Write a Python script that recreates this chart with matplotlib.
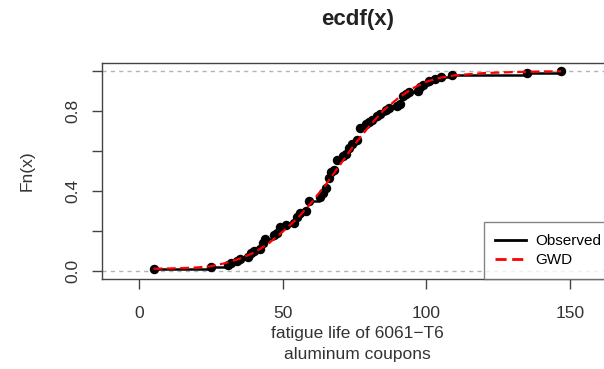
import numpy as np
import matplotlib.pyplot as plt
from matplotlib.lines import Line2D

plt.rcParams['font.family'] = ['Liberation Sans', 'DejaVu Sans']

# fatigue life (shifted), one value per coupon
fatigue = [5, 25, 31, 32, 34, 35, 38, 39, 39, 40, 42, 43, 43, 43, 44, 44,
           47, 47, 48, 49, 49, 49, 51, 54, 55, 55, 55, 56, 56, 58, 59, 59,
           59, 59, 59, 63, 63, 64, 64, 65, 65, 65, 66, 66, 66, 66, 66, 67,
           67, 67, 68, 69, 69, 69, 69, 69, 71, 71, 72, 73, 73, 73, 74, 74,
           76, 76, 77, 77, 77, 77, 77, 77, 79, 79, 80, 81, 83, 83, 84, 86,
           86, 87, 90, 91, 92, 92, 92, 92, 93, 94, 97, 98, 98, 99, 101, 101,
           103, 105, 109, 135, 147]

# fitted GWD cdf
gwd_x = [5, 10, 15, 20, 25, 30, 35, 40, 45, 50, 55, 60, 65, 70, 75, 80,
         85, 90, 95, 100, 105, 110, 120, 130, 140, 147]
gwd_F = [0.01, 0.011, 0.013, 0.016, 0.022, 0.038, 0.06, 0.09, 0.135, 0.195,
         0.26, 0.34, 0.43, 0.53, 0.63, 0.72, 0.8, 0.86, 0.91, 0.945, 0.965,
         0.977, 0.988, 0.993, 0.996, 0.997]

x = np.sort(np.array(fatigue, dtype=float))
ux, counts = np.unique(x, return_counts=True)
Fn = np.cumsum(counts) / len(x)

fig = plt.figure(figsize=(6.04, 3.69), dpi=100)
ax = fig.add_axes([102 / 604, 1 - 278.7 / 369, 510.6 / 604, 216 / 369])

ax.axhline(0, color='#b3b3b3', lw=1, ls=(0, (3, 3)), zorder=1)
ax.axhline(1, color='#b3b3b3', lw=1, ls=(0, (3, 3)), zorder=1)

# step segments of the ecdf (no verticals) and jump points
ax.hlines(Fn[:-1], ux[:-1], ux[1:], color='black', lw=1.8, zorder=3)
ax.plot(ux, Fn, 'o', color='black', ms=5.8, zorder=4)

ax.plot(gwd_x, gwd_F, color='red', lw=1.6, ls=(0, (4, 2)), zorder=5)

ax.set_xlim(-12.95, 164.95)
ax.set_ylim(-0.04, 1.04)
ax.set_xticks([0, 50, 100, 150])
ax.set_yticks([0, 0.2, 0.4, 0.6, 0.8, 1.0])
ax.set_yticklabels(['0.0', '', '0.4', '', '0.8', ''])

for s in ax.spines.values():
    s.set_color('#444444')
    s.set_linewidth(1)
ax.tick_params(axis='both', direction='out', length=7.5, width=1,
               color='#444444', labelsize=12.5, labelcolor='#333333')
ax.tick_params(axis='x', pad=12)
ax.tick_params(axis='y', pad=8, labelrotation=90)
for lab in ax.get_yticklabels():
    lab.set_va('center')

ax.set_title('ecdf(x)', fontsize=16, fontweight='bold', pad=27, color='#222222')
ax.set_xlabel('fatigue life of 6061\u2212T6\naluminum coupons', fontsize=12.5,
              labelpad=4, linespacing=1.45, color='#333333')
ax.set_ylabel('Fn(x)', fontsize=12.5, labelpad=22, color='#333333')

handles = [Line2D([], [], color='black', lw=2),
           Line2D([], [], color='red', lw=2, ls=(0, (4, 2)))]
leg = ax.legend(handles, ['Observed', 'GWD'], loc='lower right',
                borderaxespad=0, fancybox=False, fontsize=11,
                handlelength=2, handletextpad=0.6, labelspacing=0.35,
                borderpad=0.75)
leg.get_frame().set_edgecolor('#666666')
leg.get_frame().set_linewidth(1)

fig.savefig('out.png', dpi=100)
